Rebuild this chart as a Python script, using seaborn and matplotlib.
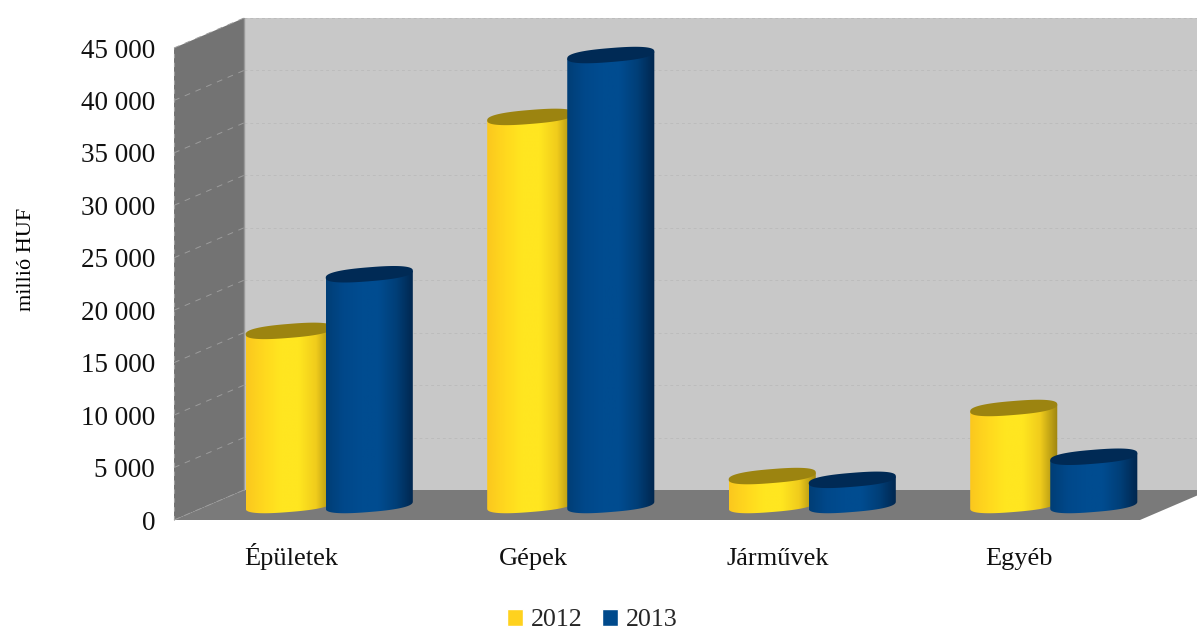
import numpy as np
import pandas as pd
import matplotlib
matplotlib.use("Agg")
import matplotlib.pyplot as plt
from matplotlib.colors import LinearSegmentedColormap
from matplotlib.patches import Polygon
from matplotlib.transforms import ScaledTranslation
import seaborn as sns

categories = ["Épületek", "Gépek", "Járművek", "Egyéb"]
series_2012 = [16600, 37000, 2760, 9250]
series_2013 = [22000, 42900, 2400, 4600]
years = ["2012", "2013"]
y_ticks = list(range(0, 50000, 5000))
y_tick_labels = ["0", "5 000", "10 000", "15 000", "20 000", "25 000",
                 "30 000", "35 000", "40 000", "45 000"]

sns.set_theme(style="white")
plt.rcParams["font.family"] = ["Liberation Serif", "DejaVu Serif"]

W, H = 1197, 630
fig = plt.figure(figsize=(W / 100, H / 100), dpi=100)
# the axes is the front plane of the fake 3D box
ax = fig.add_axes([174 / W, (H - 520) / H, 966 / W, 472 / H])

df = pd.DataFrame({
    "kat": categories * 2,
    "ev": [years[0]] * 4 + [years[1]] * 4,
    "ertek": series_2012 + series_2013,
})
palette = {"2012": "#FFD21E", "2013": "#004A8C"}
sns.barplot(data=df, x="kat", y="ertek", hue="ev", hue_order=years,
            palette=palette, saturation=1, width=0.663, gap=-0.0875, ax=ax)
bars = [b for cont in ax.containers for b in cont]

ax.set_xlim(-0.5, 3.5)
ax.set_ylim(0, 45000)
px_x = 4 / 966
px_y = 45000 / 472

# walls
back_dx, back_dy = 70 * px_x, 30 * px_y
x0, x1 = -0.5, 3.5
y1 = 45000
wall_kw = dict(clip_on=False, linewidth=0)
ax.add_patch(Polygon([(x0 + back_dx, back_dy), (x1 + back_dx, back_dy),
                      (x1 + back_dx, y1 + back_dy), (x0 + back_dx, y1 + back_dy)],
                     facecolor="#C8C8C8", zorder=0.1, **wall_kw))
ax.add_patch(Polygon([(x0, 0), (x0 + back_dx, back_dy),
                      (x0 + back_dx, y1 + back_dy), (x0, y1)],
                     facecolor="#737373", zorder=0.2, **wall_kw))
ax.add_patch(Polygon([(x0, 0), (x1, 0), (x1 + back_dx, back_dy), (x0 + back_dx, back_dy)],
                     facecolor="#7A7A7A", zorder=0.2, **wall_kw))

# gridlines on back and side wall
for t in y_ticks:
    if t > 0:
        ax.plot([x0 + back_dx, x1 + back_dx], [t + back_dy, t + back_dy], color="#BCBCBC",
                lw=0.7, ls=(0, (3, 3)), zorder=0.3, clip_on=False)
    ax.plot([x0, x0 + back_dx], [t, t + back_dy], color="#9C9C9C",
            lw=0.7, ls=(0, (6, 6)), zorder=0.3, clip_on=False)
ax.plot([x0 + back_dx, x0 + back_dx], [back_dy, y1 + back_dy], color="#999999", lw=1, zorder=0.3, clip_on=False)
ax.plot([x0, x0], [0, y1], color="#A0A0A0", lw=0.8, ls=(0, (4, 4)), zorder=0.3, clip_on=False)

# cylinders, made from the seaborn bars
depth_dx, depth_dy = 34.5 * px_x, 15 * px_y
minor, shear = 7 * px_y, 3.5 * px_y
grads = [
    (["#FBC81E", "#FFD81E", "#FFE620", "#FFE620", "#F0CC1C", "#9E8510"], "#9C8410"),
    (["#003E76", "#00488A", "#004C90", "#004C90", "#003F78", "#00264E"], "#002A55"),
]


def oval(angles, power=0.8):
    # slightly squarer than a true ellipse, like the original caps
    cs = np.sign(np.cos(angles)) * np.abs(np.cos(angles)) ** power
    sn = np.sign(np.sin(angles)) * np.abs(np.sin(angles)) ** power
    return cs, sn


t = np.linspace(0, 2 * np.pi, 160)
low = np.linspace(np.pi, 2 * np.pi, 80)
n = len(categories)
for i, bar in enumerate(bars):
    stops, cap_col = grads[i // n]
    half = bar.get_width() / 2
    cx = bar.get_x() + half + depth_dx
    top = bar.get_height() + depth_dy
    bar.set_visible(False)
    cs, sn = oval(low)
    xs_bot = cx + half * cs
    ys_bot = depth_dy + minor * sn + shear * cs
    body_pts = [(cx - half, top - shear)] + list(zip(xs_bot, ys_bot)) + [(cx + half, top + shear)]
    z = 2 + i // n + i * 0.01
    body = Polygon(body_pts, facecolor="none", edgecolor="none", zorder=z, clip_on=False)
    ax.add_patch(body)
    cmap = LinearSegmentedColormap.from_list("c", stops)
    im = ax.imshow(np.linspace(0, 1, 200)[None, :], cmap=cmap, aspect="auto",
                   extent=(cx - half, cx + half, 0, top + shear), zorder=z,
                   interpolation="bilinear")
    im.set_clip_path(body)
    cs, sn = oval(t)
    cap = Polygon(list(zip(cx + half * cs, top + minor * sn + shear * cs)),
                  facecolor=cap_col, edgecolor="none", zorder=z + 0.001, clip_on=False)
    ax.add_patch(cap)

ax.set_xlim(-0.5, 3.5)
ax.set_ylim(0, 45000)
ax.set_yticks(y_ticks)
ax.set_yticklabels(y_tick_labels, fontsize=19.5, color="#111111")
ax.tick_params(axis="y", length=0, pad=13.5)
ax.tick_params(axis="x", length=0, pad=32.5, labelsize=19, labelcolor="#111111")
for lab, shift in zip(ax.get_xticklabels(), [-4, -3, 0, 0]):
    lab.set_verticalalignment("baseline")
    lab.set_transform(lab.get_transform() + ScaledTranslation(shift / 100, 0, fig.dpi_scale_trans))
ax.set_xlabel("")
ax.set_ylabel("millió HUF", fontsize=16, color="black")
ax.yaxis.set_label_coords(-138 / 966, 0.552)
sns.despine(ax=ax, left=True, bottom=True)
ax.patch.set_visible(False)

sns.move_legend(ax, "center", bbox_to_anchor=((592.5 - 174) / 966, (520 - 620) / 472),
                ncol=2, frameon=False, title=None, fontsize=18.7,
                handlelength=0.62, handleheight=0.62, handletextpad=0.31, columnspacing=0.73)

fig.savefig("out.png", dpi=100)
